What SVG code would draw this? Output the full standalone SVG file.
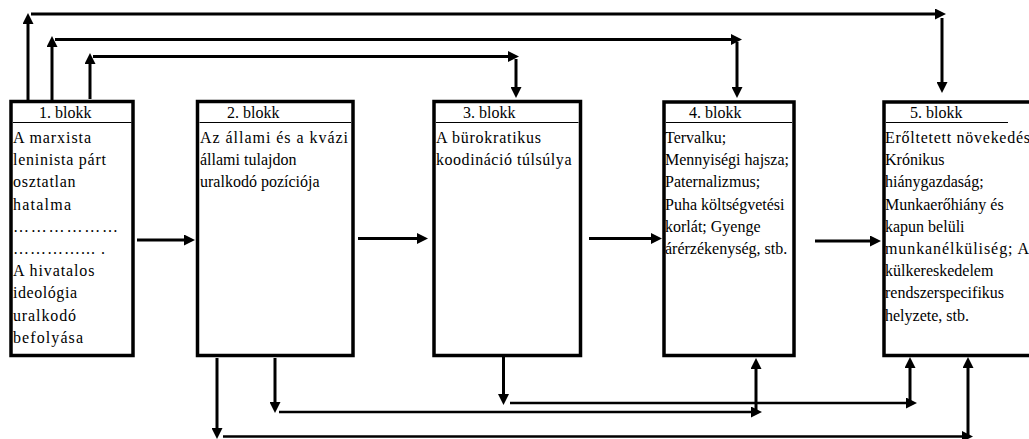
<svg xmlns="http://www.w3.org/2000/svg" width="1029" height="439" viewBox="0 0 1029 439">
<style>
.box{fill:#fff;stroke:#000;stroke-width:3.5}
.hdr{stroke:#000;stroke-width:1}
text{font-family:"Liberation Serif","Times New Roman",serif;font-size:16px;fill:#000}
.c{stroke:#000;stroke-width:3;fill:none;marker-end:url(#ah)}
.t{stroke-width:2.5}
</style>
<defs>
<marker id="ah" markerUnits="userSpaceOnUse" markerWidth="11" markerHeight="11" viewBox="0 0 11 11" refX="0.5" refY="5.5" orient="auto">
<path d="M0,0 L11,5.5 L0,11 Z" fill="#000"/>
</marker>
</defs>
<rect width="1029" height="439" fill="#fff"/>
<g id="connectors">
<path class="c" d="M28,100 V23.5"/>
<path class="c" d="M31,14 H935.5"/>
<path class="c" d="M942,18 V82.5"/>
<path class="c" d="M52,100 V46.5"/>
<path class="c" d="M55,39.5 H731.5"/>
<path class="c" d="M737,42 V87.5"/>
<path class="c" d="M90,99 V63.5"/>
<path class="c" d="M93,56.5 H508.5"/>
<path class="c" d="M516,59 V87.5"/>
<path class="c" d="M137,240 H184.5"/>
<path class="c" d="M358,238.5 H417.5"/>
<path class="c" d="M589,238.5 H651.5"/>
<path class="c" d="M815,241 H870.5"/>
<path class="c" d="M217,358 V428.5"/>
<path class="c t" d="M223,436.5 H962.5"/>
<path class="c" d="M968,437 V367.5"/>
<path class="c" d="M275,358 V402.5"/>
<path class="c t" d="M279,412 H751.5"/>
<path class="c" d="M756,410 V368.5"/>
<path class="c" d="M503.5,357 V394.5"/>
<path class="c t" d="M510,403 H906.5"/>
<path class="c" d="M910,404 V367.5"/>
</g>
<g id="block1">
<rect class="box" x="11" y="101.5" width="122" height="254"/>
<line class="hdr" x1="13" y1="122.5" x2="131.5" y2="122.5"/>
<text x="39" y="118">1. blokk</text>
<text x="13" y="143" textLength="78" lengthAdjust="spacing">A marxista</text>
<text x="13" y="165.2" textLength="93" lengthAdjust="spacing">leninista párt</text>
<text x="13" y="187.4" textLength="62.5" lengthAdjust="spacing">osztatlan</text>
<text x="13" y="209.6" textLength="58" lengthAdjust="spacing">hatalma</text>
<text x="13" y="231.8" textLength="105" lengthAdjust="spacing">………………</text>
<text x="13" y="254" textLength="92" lengthAdjust="spacing">…………... .</text>
<text x="13" y="276.2" textLength="81.5" lengthAdjust="spacing">A hivatalos</text>
<text x="13" y="298.4" textLength="64" lengthAdjust="spacing">ideológia</text>
<text x="13" y="320.6" textLength="63" lengthAdjust="spacing">uralkodó</text>
<text x="13" y="342.8" textLength="70" lengthAdjust="spacing">befolyása</text>
</g>
<g id="block2">
<rect class="box" x="197.5" y="101.5" width="155.5" height="254"/>
<line class="hdr" x1="199.5" y1="122.5" x2="351" y2="122.5"/>
<text x="227" y="118">2. blokk</text>
<text x="200" y="143" textLength="148" lengthAdjust="spacing">Az állami és a kvázi</text>
<text x="200" y="165.2">állami tulajdon</text>
<text x="200" y="187.4">uralkodó pozíciója</text>
</g>
<g id="block3">
<rect class="box" x="434" y="101.5" width="146.5" height="254"/>
<line class="hdr" x1="436" y1="122.5" x2="578.5" y2="122.5"/>
<text x="463" y="118">3. blokk</text>
<text x="436" y="143" textLength="105" lengthAdjust="spacing">A bürokratikus</text>
<text x="436" y="165.2" textLength="135.5" lengthAdjust="spacing">koodináció túlsúlya</text>
</g>
<g id="block4">
<rect class="box" x="664" y="102" width="130" height="253.5"/>
<line class="hdr" x1="666" y1="122.5" x2="792" y2="122.5"/>
<text x="689" y="118">4. blokk</text>
<text x="665" y="143">Tervalku;</text>
<text x="665" y="165.2">Mennyiségi hajsza;</text>
<text x="665" y="187.4">Paternalizmus;</text>
<text x="665" y="209.6">Puha költségvetési</text>
<text x="665" y="231.8">korlát; Gyenge</text>
<text x="665" y="254">árérzékenység, stb.</text>
</g>
<g id="block5">
<rect class="box" x="884" y="102" width="170" height="253.5"/>
<line class="hdr" x1="886" y1="122.5" x2="1008" y2="122.5"/>
<text x="910" y="118">5. blokk</text>
<text x="885" y="143" textLength="145" lengthAdjust="spacing">Erőltetett növekedés</text>
<text x="885" y="165.2">Krónikus</text>
<text x="885" y="187.4">hiánygazdaság;</text>
<text x="885" y="209.6">Munkaerőhiány és</text>
<text x="885" y="231.8">kapun belüli</text>
<text x="885" y="254" textLength="144" lengthAdjust="spacing">munkanélküliség; A</text>
<text x="885" y="276.2">külkereskedelem</text>
<text x="885" y="298.4">rendszerspecifikus</text>
<text x="885" y="320.6">helyzete, stb.</text>
</g>
</svg>
